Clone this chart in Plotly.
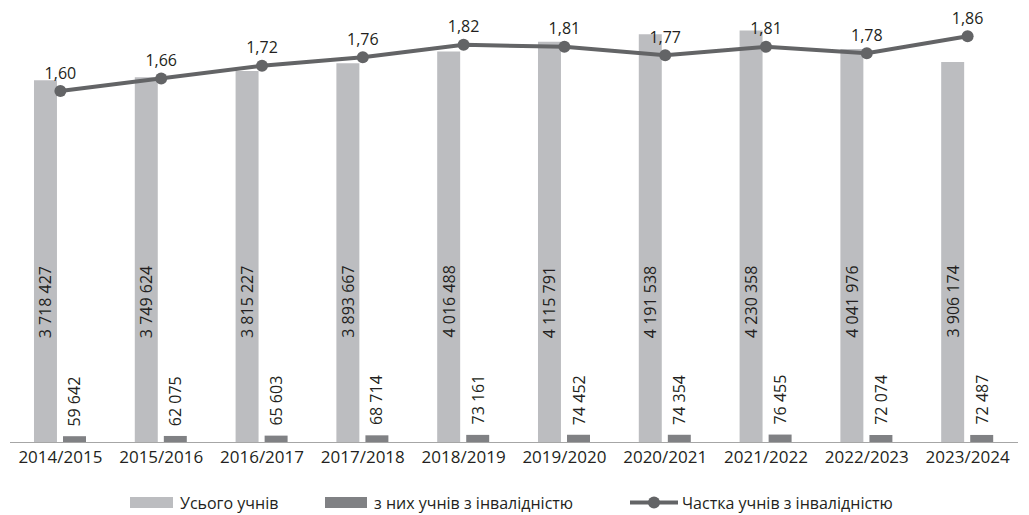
import plotly.graph_objects as go

years = ["2014/2015", "2015/2016", "2016/2017", "2017/2018", "2018/2019",
         "2019/2020", "2020/2021", "2021/2022", "2022/2023", "2023/2024"]
total_students = [3718427, 3749624, 3815227, 3893667, 4016488,
                  4115791, 4191538, 4230358, 4041976, 3906174]
disabled_students = [59642, 62075, 65603, 68714, 73161,
                     74452, 74354, 76455, 72074, 72487]
share_pct = [1.60, 1.66, 1.72, 1.76, 1.82, 1.81, 1.77, 1.81, 1.78, 1.86]

legend_names = ["Усього учнів", "з них учнів з інвалідністю", "Частка учнів з інвалідністю"]

LIGHT = "#BCBDC0"
DARK = "#808184"
LINE = "#636466"
TXT = "#231F20"
FONT = "Open Sans"

def fmt_int(v):
    return f"{v:,}".replace(",", " ")

def fmt_pct(v):
    return f"{v:.2f}".replace(".", ",")

# the page body has an 8px margin: the figure starts at (8, 8)
OFF = 8
W, H = 1029 - OFF, 515 - OFF
ML, MR, MT, MB = 2, 11, 2, 73
PW = W - ML - MR
PH = H - MT - MB

fig = go.Figure()
fig.add_trace(go.Bar(x=years, y=total_students, name=legend_names[0],
                     marker=dict(color=LIGHT, line=dict(width=0)),
                     offset=-0.262, width=0.228, showlegend=False, hoverinfo="skip"))
fig.add_trace(go.Bar(x=years, y=disabled_students, name=legend_names[1],
                     marker=dict(color=DARK, line=dict(width=0)),
                     offset=0.026, width=0.228, showlegend=False, hoverinfo="skip"))
fig.add_trace(go.Scatter(x=years, y=share_pct, name=legend_names[2], yaxis="y2",
                         mode="lines+markers+text",
                         line=dict(color=LINE, width=4),
                         marker=dict(color=LINE, size=12),
                         text=[fmt_pct(v) for v in share_pct],
                         textposition="top center",
                         textfont=dict(family=FONT, size=16, color=TXT),
                         cliponaxis=False, showlegend=False, hoverinfo="skip"))

annotations = []
for yr, t, d in zip(years, total_students, disabled_students):
    annotations.append(dict(x=yr, y=1.44e6, xref="x", yref="y", text=fmt_int(t),
                            textangle=-90, showarrow=False, xshift=-15,
                            xanchor="center", yanchor="middle",
                            font=dict(family=FONT, size=16, color=TXT)))
    annotations.append(dict(x=yr, y=d, xref="x", yref="y", text=fmt_int(d),
                            textangle=-90, showarrow=False, xshift=14, yshift=8,
                            xanchor="center", yanchor="bottom",
                            font=dict(family=FONT, size=16, color=TXT)))

def px_x(p):
    return (p - OFF - ML) / PW

def px_y(p):
    return (OFF + MT + PH - p) / PH

shapes = []
ly0, ly1 = px_y(508), px_y(497)
lyc = px_y(502.5)
shapes.append(dict(type="rect", xref="paper", yref="paper", x0=px_x(130), x1=px_x(173),
                   y0=ly0, y1=ly1, fillcolor=LIGHT, line=dict(width=0)))
shapes.append(dict(type="rect", xref="paper", yref="paper", x0=px_x(325), x1=px_x(367),
                   y0=ly0, y1=ly1, fillcolor=DARK, line=dict(width=0)))
shapes.append(dict(type="line", xref="paper", yref="paper", x0=px_x(630), x1=px_x(678),
                   y0=lyc, y1=lyc, line=dict(color=LINE, width=4)))
shapes.append(dict(type="circle", xref="paper", yref="paper", xsizemode="pixel", ysizemode="pixel",
                   xanchor=px_x(654), yanchor=lyc, x0=-6, x1=6, y0=-6, y1=6,
                   fillcolor=LINE, line=dict(width=0)))
for xp, name in zip([178, 372, 680], legend_names):
    annotations.append(dict(x=px_x(xp), y=lyc, xref="paper", yref="paper", text=name,
                            showarrow=False, xanchor="left", yanchor="middle",
                            font=dict(family=FONT, size=16, color=TXT)))

fig.update_layout(
    width=W, height=H,
    margin=dict(l=ML, r=MR, t=MT, b=MB),
    paper_bgcolor="white", plot_bgcolor="white",
    barmode="overlay",
    showlegend=False,
    xaxis=dict(type="category", range=[-0.5, 9.5], showgrid=False, zeroline=False,
               showline=True, linecolor="#A6A6A6", linewidth=1, ticks="",
               tickfont=dict(family=FONT, size=17, color=TXT)),
    yaxis=dict(range=[0, 4.442e6], visible=False, showgrid=False, zeroline=False),
    yaxis2=dict(range=[-0.068, 1.985], overlaying="y", visible=False,
                showgrid=False, zeroline=False),
    annotations=annotations,
    shapes=shapes,
)

fig.write_html("out.html")
